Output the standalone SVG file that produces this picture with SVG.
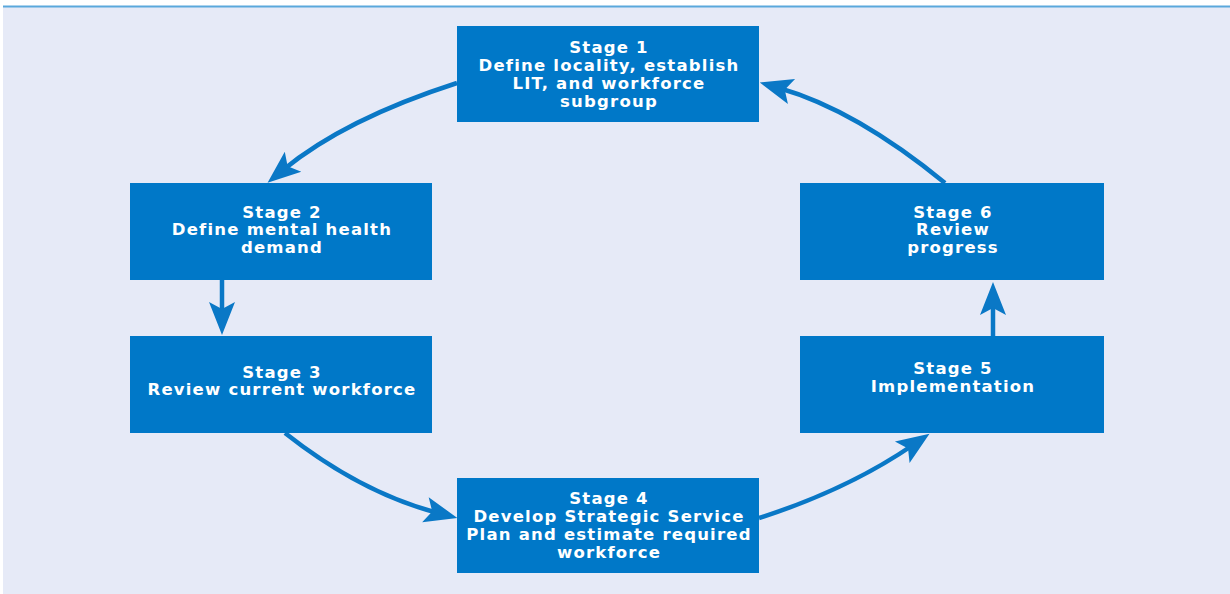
<svg xmlns="http://www.w3.org/2000/svg" width="1230" height="594" viewBox="0 0 1230 594">
  <defs>
    <style>
      .box { fill: #0078c8; }
      .lbl { fill: #ffffff; font-family: "DejaVu Sans", "Liberation Sans", sans-serif; font-weight: bold; font-size: 16.5px; text-anchor: middle; letter-spacing: 1.2px; }
      .flow { fill: none; stroke: #0a78c6; stroke-width: 4.5; }
    </style>
    <marker id="head" markerUnits="userSpaceOnUse" orient="auto" viewBox="-36 -15 38 30" markerWidth="38" markerHeight="30" refX="-20" refY="0">
      <path d="M0,0 L-33,-13 L-26,0 L-33,13 Z" fill="#0a78c6"/>
    </marker>
  </defs>

  <!-- page panel -->
  <rect x="0" y="0" width="1230" height="594" fill="#ffffff"/>
  <rect x="3" y="7" width="1227" height="587" fill="#e6eaf7"/>
  <rect x="3" y="5.5" width="1227" height="2" fill="#5aa8dc"/>

  <!-- connectors -->
  <g id="connectors">
    <path class="flow" d="M457,83 Q345,119 283,170" marker-end="url(#head)"/>
    <path class="flow" d="M222,280 L222,315" marker-end="url(#head)"/>
    <path class="flow" d="M285,433 Q361,493 438,513" marker-end="url(#head)"/>
    <path class="flow" d="M759,518 Q847,490 913,445" marker-end="url(#head)"/>
    <path class="flow" d="M993,336 L993,302" marker-end="url(#head)"/>
    <path class="flow" d="M945,183 Q856,110 779,88" marker-end="url(#head)"/>
  </g>

  <g id="stage1">
    <rect class="box" x="457" y="26" width="302" height="96"/>
    <text class="lbl" x="609" y="53">Stage 1</text>
    <text class="lbl" x="609" y="71">Define locality, establish</text>
    <text class="lbl" x="609" y="89">LIT, and workforce</text>
    <text class="lbl" x="609" y="107">subgroup</text>
  </g>

  <g id="stage2">
    <rect class="box" x="130" y="183" width="302" height="97"/>
    <text class="lbl" x="282" y="218">Stage 2</text>
    <text class="lbl" x="282" y="235">Define mental health</text>
    <text class="lbl" x="282" y="253">demand</text>
  </g>

  <g id="stage3">
    <rect class="box" x="130" y="336" width="302" height="97"/>
    <text class="lbl" x="282" y="378">Stage 3</text>
    <text class="lbl" x="282" y="395">Review current workforce</text>
  </g>

  <g id="stage4">
    <rect class="box" x="457" y="478" width="302" height="95"/>
    <text class="lbl" x="609" y="504">Stage 4</text>
    <text class="lbl" x="609" y="522">Develop Strategic Service</text>
    <text class="lbl" x="609" y="540">Plan and estimate required</text>
    <text class="lbl" x="609" y="558">workforce</text>
  </g>

  <g id="stage5">
    <rect class="box" x="800" y="336" width="304" height="97"/>
    <text class="lbl" x="953" y="374">Stage 5</text>
    <text class="lbl" x="953" y="392">Implementation</text>
  </g>

  <g id="stage6">
    <rect class="box" x="800" y="183" width="304" height="97"/>
    <text class="lbl" x="953" y="218">Stage 6</text>
    <text class="lbl" x="953" y="235">Review</text>
    <text class="lbl" x="953" y="253">progress</text>
  </g>
</svg>
